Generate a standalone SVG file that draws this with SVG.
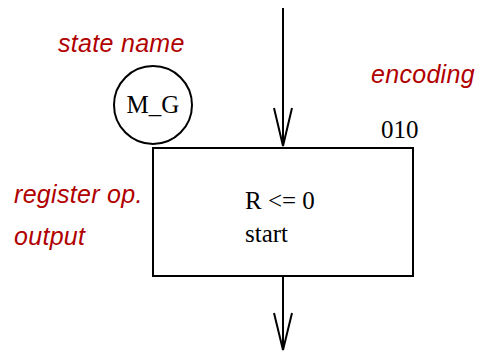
<svg xmlns="http://www.w3.org/2000/svg" width="481" height="352" viewBox="0 0 481 352">
  <defs>
    <style>
      .note { font-family: "Liberation Sans", Arial, sans-serif; font-style: italic; font-size: 25px; letter-spacing: 0.3px; fill: #b00000; }
      .serif { font-family: "Liberation Serif", "Times New Roman", serif; font-size: 25px; fill: #000; }
      .line { stroke: #000; stroke-width: 2; fill: none; }
    </style>
  </defs>

  <rect width="481" height="352" fill="#fff"/>

  <!-- annotation labels -->
  <text class="note" x="58" y="52">state name</text>
  <text class="note" x="371" y="83">encoding</text>
  <text class="note" x="14" y="203">register op.</text>
  <text class="note" x="14" y="245">output</text>

  <g id="connectors">
    <line class="line" x1="283" y1="8" x2="283" y2="146"/>
    <path class="line" d="M274,108 L283,146 L292,108"/>
    <line class="line" x1="283" y1="276" x2="283" y2="350"/>
    <path class="line" d="M274,313 L283,350 L292,313"/>
  </g>

  <g id="state-name">
    <circle class="line" cx="153" cy="105" r="39"/>
    <text class="serif" x="153" y="113" text-anchor="middle">M_G</text>
  </g>

  <g id="state-box">
    <rect class="line" x="153" y="148" width="260" height="128"/>
    <text class="serif" x="381" y="138">010</text>
    <text class="serif" x="245" y="209">R &lt;= 0</text>
    <text class="serif" x="245" y="242">start</text>
  </g>
</svg>
